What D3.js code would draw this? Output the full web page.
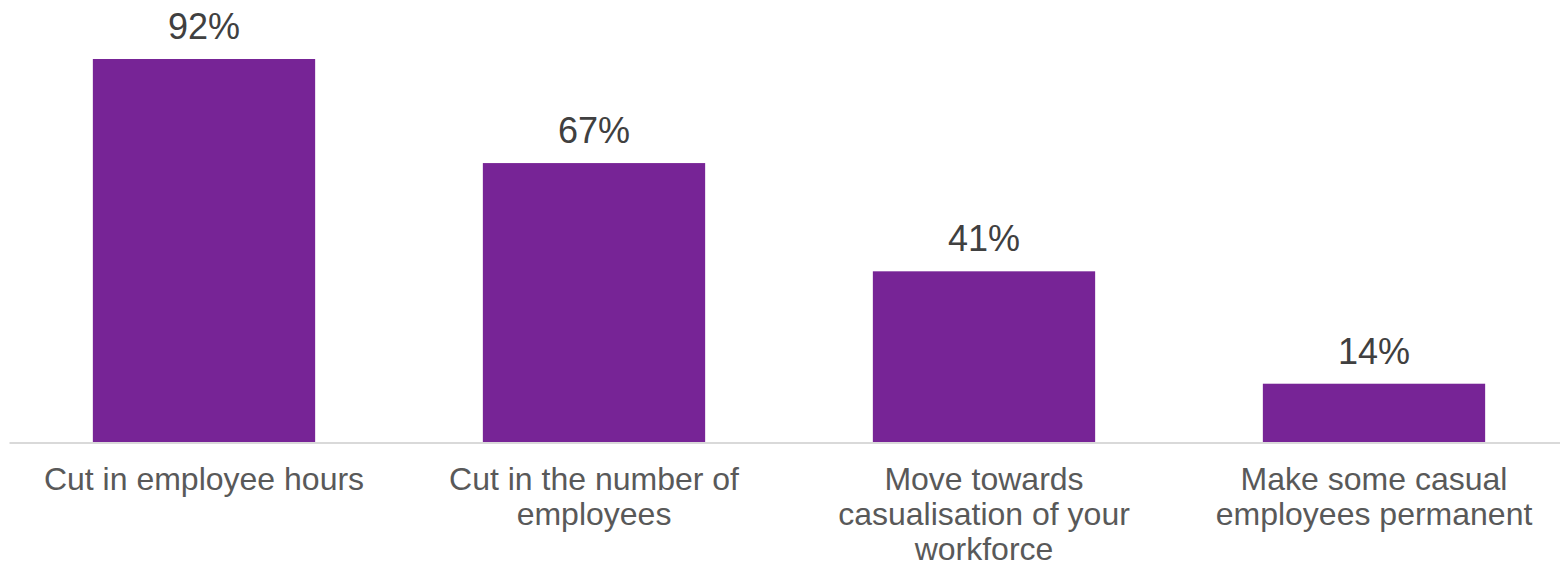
<!DOCTYPE html>
<html>
<head>
<meta charset="utf-8">
<script src="https://cdn.jsdelivr.net/npm/d3@7"></script>
<style>
  html, body { margin: 0; padding: 0; background: #fff; }
  svg { display: block; font-family: "Liberation Sans", Arial, sans-serif; }
</style>
</head>
<body>
<div id="chart"></div>
<script>
// Data
const categories = ["hours", "number", "casual", "permanent"];
const values = [92, 67, 41, 14];
const tickLabels = [
    ["Cut in employee hours"],
    ["Cut in the number of", "employees"],
    ["Move towards", "casualisation of your", "workforce"],
    ["Make some casual", "employees permanent"]
];

// Dimensions
const width = 1560, height = 567;
const baseY = 442;

const svg = d3.select("#chart").append("svg")
    .attr("width", width)
    .attr("height", height);

// Scales
const x = d3.scaleBand()
    .domain(categories)
    .range([9, 1569])
    .paddingInner(0.43)
    .paddingOuter(0.215);

const y = d3.scaleLinear()
    .domain([0, 100])
    .range([baseY, baseY - 416.3]);

// Bars
svg.selectAll(".bar")
    .data(values)
    .enter().append("rect")
    .attr("class", "bar")
    .attr("x", (d, i) => x(categories[i]))
    .attr("y", d => y(d))
    .attr("width", x.bandwidth())
    .attr("height", d => y(0) - y(d))
    .style("fill", "#772496");

// Baseline axis
const axis = svg.append("g")
    .attr("transform", `translate(0,${y(0) + 0.5})`)
    .call(d3.axisBottom(x).tickSize(0).tickFormat(""));
axis.select(".domain").attr("stroke", "#d9d9d9").attr("stroke-width", 2);

// Value labels
svg.selectAll(".val")
    .data(values)
    .enter().append("text")
    .attr("class", "val")
    .attr("x", (d, i) => x(categories[i]) + x.bandwidth() / 2)
    .attr("y", d => y(d) - 20)
    .attr("text-anchor", "middle")
    .attr("font-size", 36)
    .attr("fill", "#404040")
    .text(d => d + "%");

// Category labels
const cat = svg.selectAll(".cat")
    .data(tickLabels)
    .enter().append("text")
    .attr("class", "cat")
    .attr("text-anchor", "middle")
    .attr("font-size", 32)
    .attr("fill", "#595959");

cat.selectAll("tspan")
    .data((d, i) => d.map(line => ({ line, i })))
    .enter().append("tspan")
    .attr("x", d => x(categories[d.i]) + x.bandwidth() / 2)
    .attr("y", (d, j) => 490 + j * 35)
    .text(d => d.line);
</script>
</body>
</html>
